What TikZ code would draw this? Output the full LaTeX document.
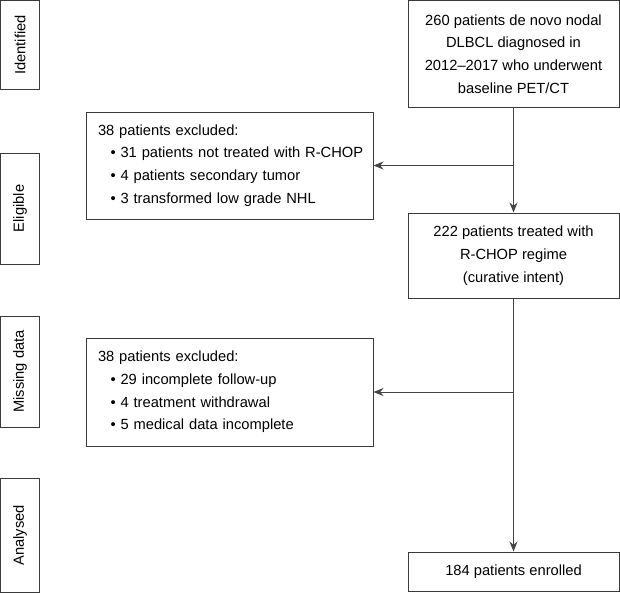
\documentclass[tikz,border=0pt]{standalone}
\usepackage{fontspec}
\setmainfont{Liberation Sans}
\usetikzlibrary{arrows.meta}
\definecolor{boxline}{HTML}{3A3A3A}
\definecolor{arrline}{HTML}{454545}
\newcommand{\bitem}[1]{\mbox{\hspace*{12.5pt}\textbullet\ #1}}
\begin{document}
\begin{tikzpicture}[x=1pt,y=-1pt,
  txt/.style={font=\fontsize{14.7}{22.7}\selectfont, text=black},
  flowbox/.style={txt, draw=boxline, line width=1pt, align=center, inner sep=0pt, minimum width=211pt},
  exclbox/.style={txt, draw=boxline, line width=1pt, align=left, inner xsep=12pt, inner ysep=0pt, text width=263pt, minimum width=287pt},
  sidebox/.style={txt, draw=boxline, line width=1pt, inner sep=0pt, minimum width=39pt},
  sidelabel/.style={txt, rotate=90, inner sep=0pt},
  conn/.style={draw=arrline, line width=1pt},
  arr/.style={conn, -{Stealth[length=10pt,width=8pt]}}
]
\useasboundingbox (0,0) rectangle (620,592);
\fill[white] (0,0) rectangle (620,592);

% side stage boxes
\node[sidebox, minimum height=89pt] (sid) at (20,45) {};
\node[sidelabel] (lid) at (sid.center) {Identified};
\node[sidebox, minimum height=111pt] (sel) at (20,208.5) {};
\node[sidelabel] (lel) at (sel.center) {Eligible};
\node[sidebox, minimum height=111pt] (smi) at (20,371.5) {};
\node[sidelabel] (lmi) at (smi.center) {Missing data};
\node[sidebox, minimum height=114pt] (san) at (20,535.5) {};
\node[sidelabel] (lan) at (san.center) {Analysed};

% main flow boxes
\node[flowbox, minimum height=107pt] (top) at (513.5,54) {260 patients de novo nodal\\DLBCL diagnosed in\\2012--2017 who underwent\\baseline PET/CT};
\node[flowbox, minimum height=85pt] (treat) at (513.5,255.5) {222 patients treated with\\R-CHOP regime\\(curative intent)};
\node[flowbox, minimum height=39pt] (enr) at (513.5,571.5) {184 patients enrolled};

% exclusion boxes
\node[exclbox, minimum height=107pt] (ex1) at (229.5,165.5) {38 patients excluded:\\
\bitem{31 patients not treated with R-CHOP}\\
\bitem{4 patients secondary tumor}\\
\bitem{3 transformed low grade NHL}};
\node[exclbox, minimum height=108pt] (ex2) at (229.5,392) {38 patients excluded:\\
\bitem{29 incomplete follow-up}\\
\bitem{4 treatment withdrawal}\\
\bitem{5 medical data incomplete}};

% connectors
\coordinate (j1) at (top.south |- ex1.east);
\coordinate (j2) at (treat.south |- ex2.east);
\draw[arr] (top.south) -- (treat.north);
\draw[arr] (j1) -- (ex1.east);
\draw[arr] (treat.south) -- (enr.north);
\draw[arr] (j2) -- (ex2.east);
\end{tikzpicture}
\end{document}
